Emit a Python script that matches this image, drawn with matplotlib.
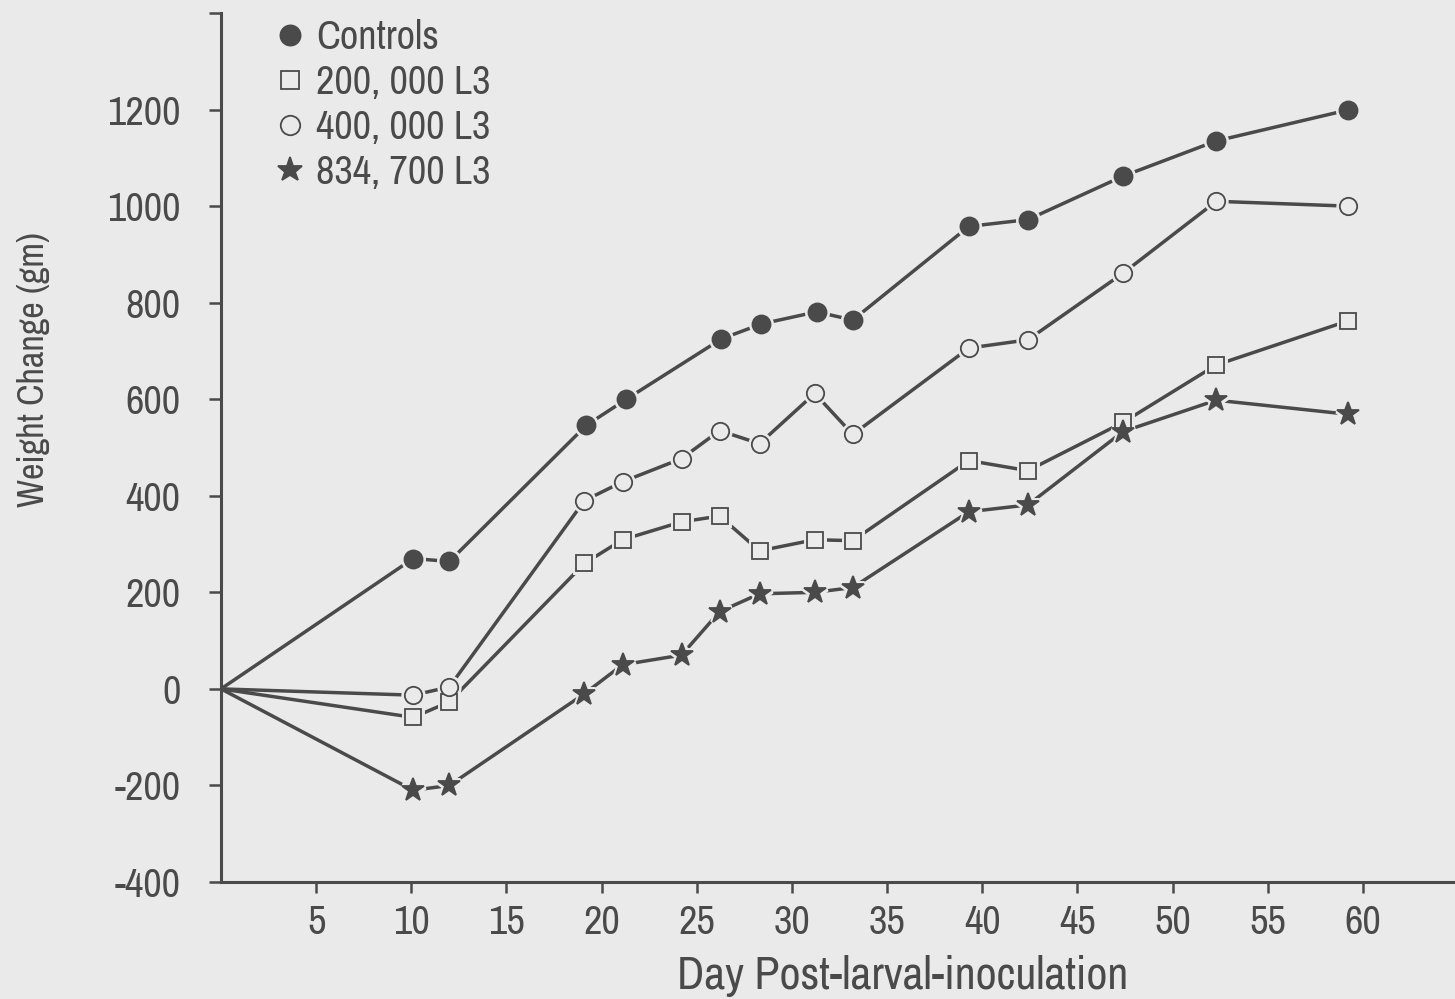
import matplotlib
matplotlib.use("Agg")
import matplotlib.pyplot as plt
from matplotlib import font_manager
from matplotlib.lines import Line2D

## Data
days_controls = [0, 10.1, 12.0, 19.2, 21.3, 26.3, 28.4, 31.3, 33.2, 39.3, 42.4, 47.4, 52.3, 59.2]
wt_controls = [0, 270, 264, 546, 600, 725, 756, 781, 764, 958, 972, 1062, 1135, 1199]

days_inoc = [0, 10.1, 12.0, 19.1, 21.1, 24.2, 26.2, 28.3, 31.2, 33.2, 39.3, 42.4, 47.4, 52.3, 59.2]
wt_200k = [0, -59, -27, 260, 309, 346, 358, 286, 309, 307, 473, 452, 552, 671, 762]
wt_400k = [0, -13, 4, 390, 429, 477, 535, 508, 612, 527, 706, 723, 861, 1010, 1000]
wt_834k = [0, -210, -200, -10, 50, 70, 160, 197, 200, 210, 367, 381, 533, 598, 569]

labels = ['Controls', '200, 000 L3', '400, 000 L3', '834, 700 L3']
x_ticks = list(range(5, 61, 5))
y_ticks = [-400, -200, 0, 200, 400, 600, 800, 1000, 1200, 1400]
y_ticklabels = ['-400', '-200', '0', '200', '400', '600', '800', '1000', '1200', '']

## Style
BG = '#eaeaea'
INK = '#4a4a4a'

# the original uses a condensed typeface; take one if there is one installed
fonts = font_manager.fontManager.ttflist
narrow = [f.name for f in fonts if 'Narrow' in f.name or 'Condensed' in f.name]
cond_dejavu = any(f.name == 'DejaVu Sans' and 'condensed' in str(f.stretch) for f in fonts)
if narrow:
    plt.rcParams['font.family'] = [narrow[0], 'DejaVu Sans']
    FS = 29
elif cond_dejavu:
    plt.rcParams['font.family'] = ['DejaVu Sans']
    plt.rcParams['font.stretch'] = 'condensed'
    FS = 27
else:
    plt.rcParams['font.family'] = ['Liberation Sans', 'DejaVu Sans']
    FS = 27

fig = plt.figure(figsize=(14.55, 9.99), dpi=100, facecolor=BG)
ax = fig.add_axes([221 / 1455, 1 - 882 / 999, 1234 / 1455, 869 / 999])
ax.set_facecolor(BG)

# (days, values, marker, face, size)
series = [
    (days_controls, wt_controls, 'o', INK, 13),
    (days_inoc, wt_200k, 's', BG, 12),
    (days_inoc, wt_400k, 'o', BG, 12.5),
    (days_inoc, wt_834k, '*', INK, 17),
]

for d, w, m, fc, ms in series:
    ax.plot(d, w, color=INK, lw=2.5, zorder=2)
    # halo to leave small gaps where the lines meet the markers
    ax.plot(d[1:], w[1:], ls='none', marker=m, ms=ms, mfc=BG, mec=BG, mew=5, zorder=3)
    ax.plot(d[1:], w[1:], ls='none', marker=m, ms=ms, mfc=fc, mec=INK, mew=1.3, zorder=4)

ax.set_xlim(0, 1234 / 19.03)
ax.set_ylim(-400, 1400)
ax.set_xticks(x_ticks)
ax.set_xticklabels([str(t) for t in x_ticks])
ax.set_yticks(y_ticks)
ax.set_yticklabels(y_ticklabels)

for s in ['top', 'right']:
    ax.spines[s].set_visible(False)
for s in ['left', 'bottom']:
    ax.spines[s].set_color(INK)
    ax.spines[s].set_linewidth(2.2)

ax.tick_params(axis='x', direction='out', length=8, width=1.8, color=INK,
               labelcolor=INK, labelsize=FS, pad=8)
ax.tick_params(axis='y', direction='out', length=9, width=1.8, color=INK,
               labelcolor=INK, labelsize=FS, pad=20)

ax.set_xlabel('Day Post-larval-inoculation', fontsize=FS + 4, color=INK)
ax.xaxis.set_label_coords((903 - 221) / 1234, -(955 - 882) / 869)
ax.set_ylabel('Weight Change (gm)', fontsize=FS - 3, color=INK)
ax.yaxis.set_label_coords(-(221 - 50) / 1234, (882 - 370) / 869)

# Legend, markers only
handles = [Line2D([], [], ls='none', marker=m, ms=ms + 1.5, mfc=fc, mec=INK, mew=1.3)
           for _, _, m, fc, ms in series]
leg = ax.legend(handles, labels, loc='upper left', frameon=False,
                bbox_to_anchor=(274 / 1455, 1 - 19 / 999), bbox_transform=fig.transFigure,
                borderpad=0, borderaxespad=0, handlelength=0.8, handletextpad=0.25,
                labelspacing=0.2, fontsize=FS)
for t in leg.get_texts():
    t.set_color(INK)

fig.savefig('out.png', dpi=100, facecolor=BG)
